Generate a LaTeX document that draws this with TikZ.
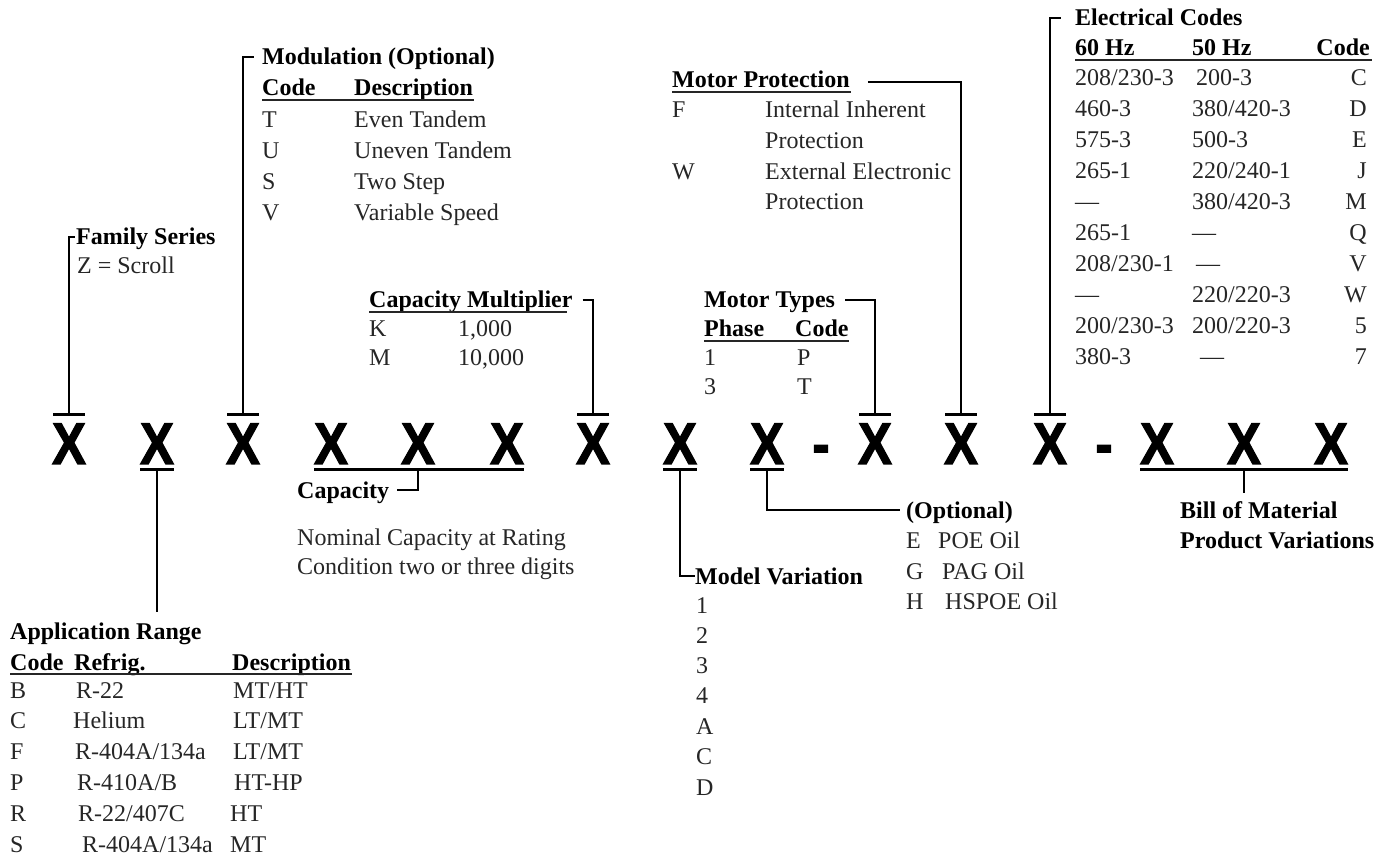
\documentclass[tikz,border=0pt]{standalone}
\usepackage{fontspec}
\setmainfont{Liberation Serif}
\newfontfamily\xfont[FakeStretch=0.86,FakeBold=2]{Liberation Sans Bold}
\usetikzlibrary{calc}
\definecolor{txtc}{RGB}{38,38,38}
\tikzset{
  lbl/.style={anchor=base west, inner sep=0pt, font=\fontsize{24}{29}\selectfont, text=txtc},
  lble/.style={anchor=base east, inner sep=0pt, font=\fontsize{24}{29}\selectfont, text=txtc},
  ttl/.style={anchor=base west, inner sep=0pt, font=\fontsize{24}{29}\selectfont\bfseries, text=black},
  xl/.style={anchor=base, inner sep=0pt, font=\xfont\fontsize{59}{59}\selectfont},
  conn/.style={line width=2.3pt, line join=miter, draw=black},
  bar/.style={line width=2.8pt, draw=black},
  uline/.style={line width=1.3pt, draw=txtc},
}
\begin{document}
\begin{tikzpicture}[x=1pt,y=-1pt]
\useasboundingbox (0,0) rectangle (1390,858);

% ---------- the code letters ----------
\foreach \n/\xx in {1/69,2/157,3/243,4/331,5/418,6/507,7/593,8/680,9/767,10/875,11/961,12/1050,13/1157,14/1244,15/1331}{
  \node[xl] (x\n) at (\xx,464) {X};
}
\node[xl] (d1) at (821,464) {-};
\node[xl] (d2) at (1104,464) {-};

% top bars
\foreach \n in {1,3,7,10,11,12}{
  \draw[bar] ($(x\n.north)+(-16,-9)$) -- ($(x\n.north)+(16,-9)$);
  \coordinate (t\n) at ($(x\n.north)+(0,-9)$);
}
% bottom bars
\foreach \n in {2,8,9}{
  \draw[bar] ($(x\n.south)+(-17,5)$) -- ($(x\n.south)+(17,5)$);
  \coordinate (b\n) at ($(x\n.south)+(0,5)$);
}
\draw[bar] ($(x4.south)+(-17,5)$) -- ($(x6.south)+(17,5)$);
\coordinate (bcap) at ($(x5.south)+(0,5)$);
\draw[bar] ($(x13.south)+(-17,5)$) -- ($(x15.south)+(17,5)$);
\coordinate (bbom) at ($(x14.south)+(0,5)$);

% ---------- Family Series ----------
\node[ttl] (fam) at (76,245) {Family Series};
\node[lbl] (famz) at (77,274) {Z = Scroll};
\draw[conn] (t1) |- ($(fam.base west)+(-1,-8)$);

% ---------- Modulation ----------
\node[ttl] (mod) at (262,65) {Modulation (Optional)};
\node[ttl] (modh1) at (262,96) {Code};
\node[ttl] (modh2) at (354,96) {Description};
\draw[uline] (262,100) -- (474,100);
\foreach \c/\d/\yy in {T/Even Tandem/128,U/Uneven Tandem/159,S/Two Step/190,V/Variable Speed/221}{
  \node[lbl] at (262,\yy) {\c};
  \node[lbl] at (354,\yy) {\d};
}
\draw[conn] (t3) |- ($(mod.base west)+(-8,-8)$);

% ---------- Capacity Multiplier ----------
\node[ttl] (cm) at (369,308) {Capacity Multiplier};
\draw[uline] (369,312) -- (567,312);
\node[lbl] at (369,337) {K};
\node[lbl] at (458,337) {1,000};
\node[lbl] at (369,366) {M};
\node[lbl] at (458,366) {10,000};
\draw[conn] ($(cm.base east)+(10,-8)$) -| (t7);

% ---------- Motor Types ----------
\node[ttl] (mt) at (704,308) {Motor Types};
\node[ttl] (mth1) at (704,337) {Phase};
\node[ttl] (mth2) at (795,337) {Code};
\draw[uline] (704,341) -- (849,341);
\node[lbl] at (704,366) {1};
\node[lbl] at (797,366) {P};
\node[lbl] at (704,395) {3};
\node[lbl] at (797,395) {T};
\draw[conn] ($(mt.base east)+(10,-8)$) -| (t10);

% ---------- Motor Protection ----------
\node[ttl] (mp) at (672,88) {Motor Protection};
\draw[uline] (672,92) -- (851,92);
\node[lbl] at (672,118) {F};
\node[lbl] at (765,118) {Internal Inherent};
\node[lbl] at (765,149) {Protection};
\node[lbl] at (672,180) {W};
\node[lbl] at (765,180) {External Electronic};
\node[lbl] at (765,210) {Protection};
\draw[conn] ($(mp.base east)+(18,-6)$) -| (t11);

% ---------- Electrical Codes ----------
\node[ttl] (ec) at (1075,26) {Electrical Codes};
\node[ttl] (ech1) at (1075,56) {60 Hz};
\node[ttl] (ech2) at (1192,56) {50 Hz};
\node[ttl, anchor=base east] (ech3) at (1370,56) {Code};
\draw[uline] (1075,60) -- (1372,60);
\foreach \a/\b/\bx/\c/\yy in {
  {208/230-3}/{200-3}/1196/C/86,
  {460-3}/{380/420-3}/1192/D/117,
  {575-3}/{500-3}/1192/E/148,
  {265-1}/{220/240-1}/1192/J/179,
  {---}/{380/420-3}/1192/M/210,
  {265-1}/{---}/1192/Q/241,
  {208/230-1}/{---}/1196/V/272,
  {---}/{220/220-3}/1192/W/303,
  {200/230-3}/{200/220-3}/1192/5/334,
  {380-3}/{---}/1200/7/365}{
  \node[lbl] at (1075,\yy) {\a};
  \node[lbl] at (\bx,\yy) {\b};
  \node[lble] at (1367,\yy) {\c};
}
\draw[conn] (t12) |- ($(ec.base west)+(-14,-8)$);

% ---------- Application Range ----------
\node[ttl] (ar) at (10,639) {Application Range};
\node[ttl] (arh1) at (10,670) {Code};
\node[ttl] (arh2) at (74,670) {Refrig.};
\node[ttl] (arh3) at (232,670) {Description};
\draw[uline] (10,674) -- (352,674);
\foreach \c/\r/\rx/\d/\dx/\yy in {
  B/{R-22}/76/{MT/HT}/233/698,
  C/{Helium}/73/{LT/MT}/233/728,
  F/{R-404A/134a}/75/{LT/MT}/233/759,
  P/{R-410A/B}/77/{HT-HP}/234/790,
  R/{R-22/407C}/78/{HT}/230/821,
  S/{R-404A/134a}/82/{MT}/230/852}{
  \node[lbl] at (10,\yy) {\c};
  \node[lbl] at (\rx,\yy) {\r};
  \node[lbl] at (\dx,\yy) {\d};
}
\coordinate (arend) at ($(b2)+(0,143)$);
\draw[conn] (b2) -- (arend);

% ---------- Capacity ----------
\node[ttl] (cap) at (297,498) {Capacity};
\node[lbl] at (297,545) {Nominal Capacity at Rating};
\node[lbl] at (297,574) {Condition two or three digits};
\draw[conn] (bcap) |- ($(cap.base east)+(8,-8)$);

% ---------- Model Variation ----------
\node[ttl] (mv) at (695,584) {Model Variation};
\foreach \v/\yy in {1/613,2/643,3/673,4/703,A/734,C/764,D/795}{
  \node[lbl] at (696,\yy) {\v};
}
\draw[conn] (b8) |- ($(mv.base west)+(0,-8)$);

% ---------- Optional ----------
\node[ttl] (opt) at (906,518) {(Optional)};
\node[lbl] at (906,548) {E};
\node[lbl] at (938,548) {POE Oil};
\node[lbl] at (906,579) {G};
\node[lbl] at (942,579) {PAG Oil};
\node[lbl] at (906,609) {H};
\node[lbl] at (945,609) {HSPOE Oil};
\draw[conn] (b9) |- ($(opt.base west)+(-6,-8)$);

% ---------- Bill of Material ----------
\node[ttl] (bom1) at (1180,518) {Bill of Material};
\node[ttl] (bom2) at (1180,548) {Product Variations};
\coordinate (bomend) at ($(bbom)+(0,24)$);
\draw[conn] (bbom) -- (bomend);
\end{tikzpicture}
\end{document}
